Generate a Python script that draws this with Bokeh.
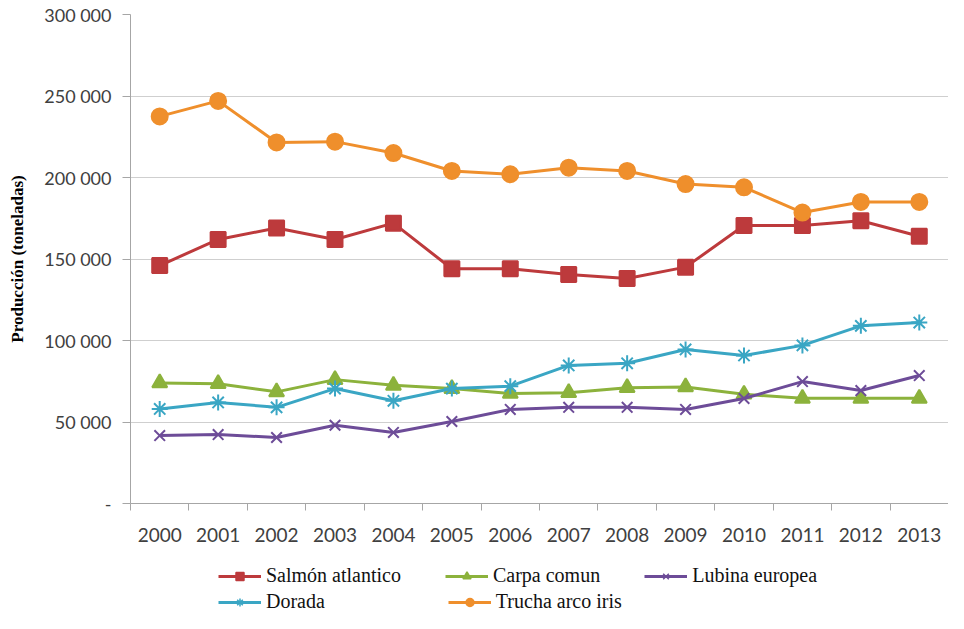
from bokeh.plotting import figure
from bokeh.models import Legend, LegendItem, FixedTicker, Range1d
from bokeh.layouts import column
from bokeh.embed import file_html
from bokeh.resources import INLINE

years = list(range(2000, 2014))
salmon = [146000, 162000, 169000, 162000, 172000, 144000, 144000, 140500, 138000, 145000, 170500, 170500, 173500, 164000]
carpa = [74000, 73500, 68500, 76000, 72500, 70500, 67500, 68000, 71000, 71500, 67000, 64500, 64500, 64500]
lubina = [41700, 42300, 40500, 48000, 43600, 50300, 57700, 59000, 59000, 57700, 64400, 74800, 69300, 78500]
dorada = [58000, 62000, 59000, 70500, 63000, 70500, 72000, 84700, 86000, 94500, 90800, 97000, 109000, 111000]
trucha = [237500, 247000, 221500, 222000, 215000, 204000, 202000, 206000, 204000, 196000, 194000, 178500, 185000, 185000]

y_ticks = [0, 50000, 100000, 150000, 200000, 250000, 300000]
y_tick_labels = ["-", "50 000", "100 000", "150 000", "200 000", "250 000", "300 000"]

series = [
    ("Salmón atlantico", salmon, "#bd3a3c", "square", 15),
    ("Carpa comun", carpa, "#8cb23c", "triangle", 15),
    ("Lubina europea", lubina, "#6d4c98", "x", 15),
    ("Dorada", dorada, "#3aa6c4", "asterisk", 16),
    ("Trucha arco iris", trucha, "#ef8f2c", "circle", 16),
]

p = figure(width=948, height=551, output_backend="svg", toolbar_location=None,
           x_range=Range1d(years[0] - 0.5, years[-1] + 0.5),
           y_range=Range1d(0, 300000),
           min_border_left=130, min_border_right=0, min_border_top=14,
           min_border_bottom=48)
p.outline_line_color = None
p.background_fill_color = "white"
p.xgrid.grid_line_color = None
p.ygrid.grid_line_color = "#cfcfcf"
p.ygrid.grid_line_width = 1.2

# y axis
p.yaxis.ticker = FixedTicker(ticks=y_ticks)
p.yaxis.major_label_overrides = {t: l for t, l in zip(y_ticks, y_tick_labels)}
p.yaxis.minor_tick_line_color = None
p.yaxis.major_tick_in = 0
p.yaxis.major_tick_out = 8
p.yaxis.major_tick_line_color = "#a6a6a6"
p.yaxis.axis_line_color = "#a6a6a6"
p.yaxis.major_label_standoff = 11
p.yaxis.major_label_text_font = "Lato"
p.yaxis.major_label_text_font_size = "18px"
p.yaxis.major_label_text_color = "#404040"
p.yaxis.axis_label = "Producción (toneladas)"
p.yaxis.axis_label_text_font = "Liberation Serif"
p.yaxis.axis_label_text_font_style = "bold"
p.yaxis.axis_label_text_font_size = "17px"
p.yaxis.axis_label_text_color = "#000000"
p.yaxis.axis_label_standoff = 14

# x axis
minor = [y - 0.5 for y in years] + [years[-1] + 0.5]
p.xaxis.ticker = FixedTicker(ticks=years, minor_ticks=minor)
p.xaxis.major_tick_line_color = None
p.xaxis.major_tick_out = 6
p.xaxis.major_tick_in = 0
p.xaxis.minor_tick_in = 0
p.xaxis.minor_tick_out = 7
p.xaxis.minor_tick_line_color = "#a6a6a6"
p.xaxis.axis_line_color = "#a6a6a6"
p.xaxis.major_label_standoff = 17
p.xaxis.major_label_text_font = "Lato"
p.xaxis.major_label_text_font_size = "19px"
p.xaxis.major_label_text_color = "#404040"

for name, vals, color, marker, size in series:
    p.line(years, vals, line_color=color, line_width=3)
    p.scatter(years, vals, marker=marker, size=size, fill_color=color,
              line_color=color, line_width=2)

# legend figure: proxy renderers whose data lie outside its (empty) view
p2 = figure(width=948, height=62, output_backend="svg", toolbar_location=None,
            x_axis_type=None, y_axis_type=None,
            x_range=Range1d(0, 1), y_range=Range1d(0, 1), min_border=0)
p2.grid.visible = False
p2.outline_line_color = None

items = []
for name, vals, color, marker, size in series:
    r1 = p2.line(years, vals, line_color=color, line_width=3)
    r2 = p2.scatter(years, vals, marker=marker, size=9, fill_color=color,
                    line_color=color, line_width=1.5)
    items.append(LegendItem(label=name, renderers=[r1, r2]))


def make_legend(its, loc, spacing):
    lg = Legend(items=its, orientation="horizontal", location=loc)
    lg.border_line_color = None
    lg.background_fill_alpha = 0
    lg.label_text_font = "Liberation Serif"
    lg.label_text_font_size = "20px"
    lg.label_text_color = "#111111"
    lg.glyph_width = 43
    lg.glyph_height = 20
    lg.label_height = 20
    lg.label_standoff = 5
    lg.spacing = spacing
    lg.padding = 0
    lg.margin = 0
    return lg


p2.add_layout(make_legend(items[:3], (88, 26), 44), "center")
p2.add_layout(make_legend(items[3:], (88, 0), 123), "center")

layout = column(p, p2, spacing=0)
open("out.html", "w").write(file_html(layout, INLINE))
